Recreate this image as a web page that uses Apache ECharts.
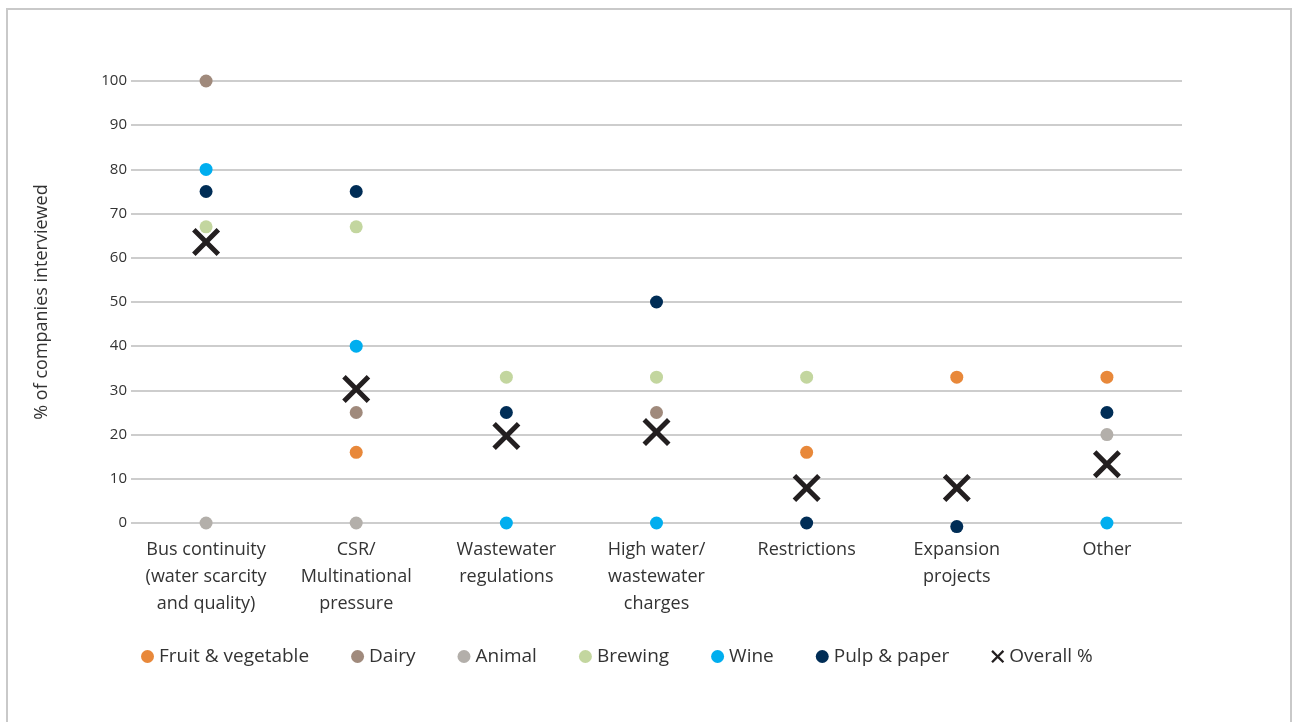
<!DOCTYPE html>
<html>
<head>
<meta charset="utf-8">
<script src="https://cdn.jsdelivr.net/npm/echarts@6/dist/echarts.min.js"></script>
<style>
    html, body { margin: 0; padding: 0; background: #fff; overflow: hidden; }
    #frame { position: absolute; left: 6px; top: 8px; width: 1282px; height: 740px; border: 2px solid #c9c9c9; }
    #chart { position: absolute; left: 0; top: 0; width: 1292px; height: 722px; }
</style>
</head>
<body>
<div id="frame"></div>
<div id="chart"></div>
<script>
var categories = ['Bus continuity\n(water scarcity\nand quality)', 'CSR/\nMultinational\npressure', 'Wastewater\nregulations',
    'High water/\nwastewater\ncharges', 'Restrictions', 'Expansion\nprojects', 'Other'];
var yTicks = [0, 10, 20, 30, 40, 50, 60, 70, 80, 90, 100];

var fruitVeg = [null, 16, null, null, 16, 33, 33];
var dairy = [100, 25, null, 25, null, null, null];
var animal = [0, 0, null, null, null, null, 20];
var brewing = [67, 67, 33, 33, 33, null, null];
var wine = [80, 40, 0, 0, null, null, 0];
var pulpPaper = [75, 75, 25, 50, 0, -0.8, 25];
var overall = [63.6, 30.3, 19.7, 20.6, 7.9, 7.9, 13.3];

// bold "x" marker
var crossPath = 'path://M2.5,0 L10,7.5 L17.5,0 L20,2.5 L12.5,10 L20,17.5 L17.5,20 L10,12.5 L2.5,20 L0,17.5 L7.5,10 L0,2.5 Z';

function dots(name, data, color) {
    return {
        name: name,
        type: 'scatter',
        data: data,
        symbol: 'circle',
        symbolSize: 13,
        clip: false,
        itemStyle: { color: color, opacity: 1 }
    };
}

var chart = echarts.init(document.getElementById('chart'));
chart.setOption({
    animation: false,
    textStyle: { fontFamily: 'Open Sans' },
    grid: { left: 131, right: 110, top: 81, bottom: 199 },
    legend: {
        left: 136,
        top: 642,
        itemWidth: 13,
        itemHeight: 13,
        itemGap: 42,
        textStyle: { fontFamily: 'Open Sans', fontSize: 19, color: '#333' },
        data: [
            { name: 'Fruit & vegetable', icon: 'circle' },
            { name: 'Dairy', icon: 'circle' },
            { name: 'Animal', icon: 'circle' },
            { name: 'Brewing', icon: 'circle' },
            { name: 'Wine', icon: 'circle' },
            { name: 'Pulp & paper', icon: 'circle' },
            { name: 'Overall %', icon: crossPath }
        ]
    },
    xAxis: {
        type: 'category',
        data: categories,
        axisLine: { show: false },
        axisTick: { show: false },
        axisLabel: { color: '#333', fontSize: 18, lineHeight: 27, margin: 13, interval: 0 }
    },
    yAxis: {
        type: 'value',
        min: yTicks[0],
        max: yTicks[yTicks.length - 1],
        interval: 10,
        name: '% of companies interviewed',
        nameLocation: 'middle',
        nameGap: 80,
        nameTextStyle: { color: '#333', fontSize: 18 },
        axisLine: { show: false },
        axisTick: { show: false },
        axisLabel: { color: '#333', fontSize: 15, margin: 4 },
        splitLine: { lineStyle: { color: '#bdbdbd', width: 1.5 } }
    },
    series: [
        dots('Fruit & vegetable', fruitVeg, '#e8883a'),
        dots('Dairy', dairy, '#a08a7c'),
        dots('Animal', animal, '#b3afaa'),
        dots('Brewing', brewing, '#c3d69f'),
        dots('Wine', wine, '#00aeef'),
        dots('Pulp & paper', pulpPaper, '#002d56'),
        {
            name: 'Overall %',
            type: 'scatter',
            data: overall,
            symbol: crossPath,
            symbolSize: 28,
            clip: false,
            z: 3,
            itemStyle: { color: '#231f20', opacity: 1 }
        }
    ]
});
window.addEventListener('resize', chart.resize);
</script>
</body>
</html>
